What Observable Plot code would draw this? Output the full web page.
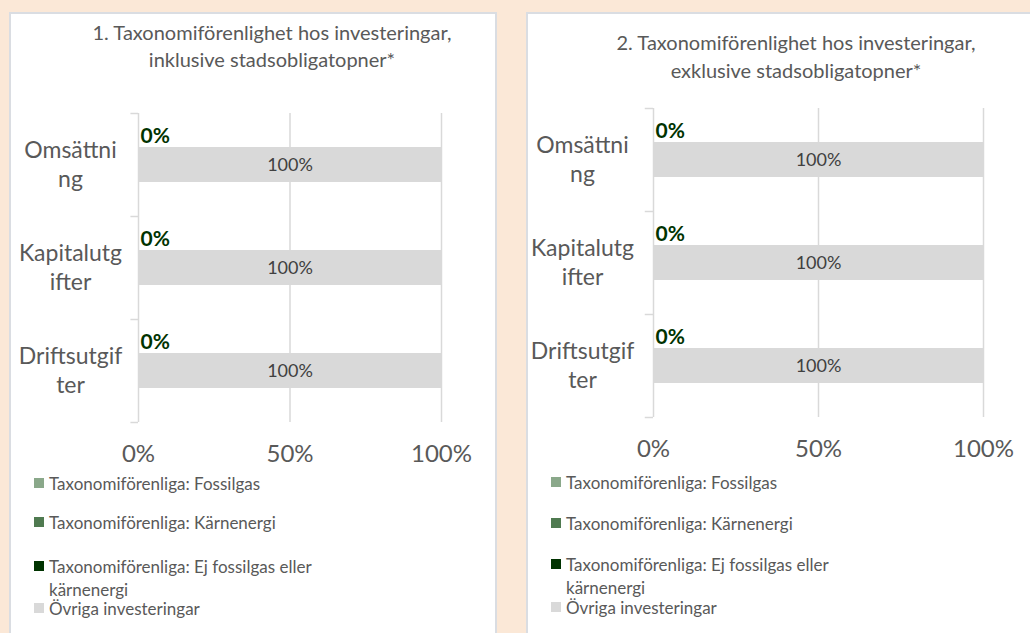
<!DOCTYPE html>
<html><head><meta charset="utf-8">
<script src="https://cdn.jsdelivr.net/npm/d3@7"></script>
<script src="https://cdn.jsdelivr.net/npm/@observablehq/plot@0.6"></script>
<style>
body{margin:0;width:1030px;height:633px;background:#FBE8D7;position:relative;overflow:hidden;font-family:Lato,"Open Sans",sans-serif;}
.panel{position:absolute;background:#fff;border:2px solid #DADDE2;border-bottom:none;box-sizing:border-box;}
.title{position:absolute;text-align:center;font-size:20px;color:#595959;white-space:pre;transform:translateX(-50%);}
.leg{position:absolute;font-size:17px;color:#595959;line-height:23px;}
.sw{position:absolute;width:10px;height:10px;}
.plotwrap{position:absolute;}
</style></head><body>
<script>
// ---- data ----
const categories = ["Omsättning", "Kapitalutgifter", "Driftsutgifter"];
const categoryLabels = ["Omsättni\nng", "Kapitalutg\nifter", "Driftsutgif\nter"];
const seriesNames = [
  "Taxonomiförenliga: Fossilgas",
  "Taxonomiförenliga: Kärnenergi",
  "Taxonomiförenliga: Ej fossilgas eller kärnenergi",
  "Övriga investeringar"
];
const seriesColors = ["#8AA88A", "#4F7A50", "#003300", "#D9D9D9"];
const xTicks = [0, 0.5, 1];
const titles = [
  "1. Taxonomiförenlighet hos investeringar,\ninklusive stadsobligatopner*",
  "2. Taxonomiförenlighet hos investeringar,\nexklusive stadsobligatopner*"
];
const chart1Fossilgas = [0, 0, 0];
const chart1Karnenergi = [0, 0, 0];
const chart1EjFossil = [0, 0, 0];
const chart1Ovriga = [1, 1, 1];
const chart2Fossilgas = [0, 0, 0];
const chart2Karnenergi = [0, 0, 0];
const chart2EjFossil = [0, 0, 0];
const chart2Ovriga = [1, 1, 1];

// ---- layout ----
const layouts = [
  {panel:{left:9, top:12, width:488, height:640},
   svg:{left:0, top:90, width:497, height:390, ml:138, mr:56, mt:23, mb:58},
   title:{cx:272, top:19, lh:27}, yPad:68,
   legend:{sx:34, tx:49, ys:[483, 522, 566, 608]}},
  {panel:{left:526, top:12, width:520, height:640},
   svg:{left:526, top:85, width:504, height:390, ml:127, mr:47, mt:23, mb:58},
   title:{cx:796, top:28, lh:28}, yPad:71,
   legend:{sx:551, tx:566, ys:[482, 523, 564, 607]}}
];

const pct = v => Math.round(v * 100) + "%";
const labelOf = new Map(categories.map((c, i) => [c, categoryLabels[i]]));

function makeChart(values, L) {
  const rows = [];
  categories.forEach((c, i) => seriesNames.forEach((s, j) => rows.push({category: c, series: s, value: values[j][i]})));
  const S = L.svg;
  const step = (S.height - S.mt - S.mb) / categories.length;
  return Plot.plot({
    width: S.width, height: S.height,
    marginLeft: S.ml, marginRight: S.mr, marginTop: S.mt, marginBottom: S.mb,
    style: {background: "transparent", color: "#595959", fontFamily: "Lato, 'Open Sans', sans-serif"},
    x: {domain: [0, 1], label: null},
    y: {domain: categories, paddingInner: 0.66, paddingOuter: 0.33, label: null},
    color: {domain: seriesNames, range: seriesColors},
    marks: [
      Plot.ruleX(xTicks, {stroke: "#D9D9D9", strokeWidth: 1.5}),
      Plot.ruleY(categories, {y: d => d, x1: -0.025, x2: 0, dy: -step / 2, stroke: "#D9D9D9", strokeWidth: 1.5}),
      Plot.ruleY(categories.slice(-1), {y: d => d, x1: -0.025, x2: 0, dy: step / 2, stroke: "#D9D9D9", strokeWidth: 1.5}),
      Plot.barX(rows, Plot.stackX({x: "value", y: "category", fill: "series", order: seriesNames})),
      Plot.text(rows, Plot.stackX({x: "value", y: "category", z: "series", order: seriesNames,
        text: d => d.series === seriesNames[3] ? pct(d.value) : null, fill: "#404040", fontSize: 18})),
      Plot.text(rows, Plot.stackX1({x: "value", y: "category", z: "series", order: seriesNames,
        text: d => d.series === seriesNames[2] ? pct(d.value) : null, textAnchor: "start", dx: 2, dy: -29,
        fill: seriesColors[2], fontWeight: "bold", fontSize: 21})),
      Plot.axisX(xTicks, {tickFormat: pct, tickSize: 0, tickPadding: 22, fontSize: 24, label: null}),
      Plot.axisY({tickFormat: c => labelOf.get(c), tickSize: 0, tickPadding: L.yPad, textAnchor: "middle", fontSize: 23, lineHeight: 1.25, dy: -2, label: null})
    ]
  });
}

const allValues = [
  [chart1Fossilgas, chart1Karnenergi, chart1EjFossil, chart1Ovriga],
  [chart2Fossilgas, chart2Karnenergi, chart2EjFossil, chart2Ovriga]
];

layouts.forEach((L, k) => {
  const p = document.createElement("div");
  p.className = "panel";
  Object.assign(p.style, {left: L.panel.left + "px", top: L.panel.top + "px", width: L.panel.width + "px", height: L.panel.height + "px"});
  document.body.appendChild(p);

  const t = document.createElement("div");
  t.className = "title";
  t.textContent = titles[k];
  Object.assign(t.style, {left: L.title.cx + "px", top: L.title.top + "px", lineHeight: L.title.lh + "px"});
  document.body.appendChild(t);

  const w = document.createElement("div");
  w.className = "plotwrap";
  Object.assign(w.style, {left: L.svg.left + "px", top: L.svg.top + "px"});
  w.appendChild(makeChart(allValues[k], L));
  document.body.appendChild(w);

  seriesNames.forEach((s, j) => {
    const y = L.legend.ys[j];
    const sw = document.createElement("div");
    sw.className = "sw";
    Object.assign(sw.style, {left: L.legend.sx + "px", top: (y - 5) + "px", background: seriesColors[j]});
    document.body.appendChild(sw);
    const lab = document.createElement("div");
    lab.className = "leg";
    lab.textContent = s;
    Object.assign(lab.style, {left: L.legend.tx + "px", top: (y - 11.5) + "px", width: "285px"});
    document.body.appendChild(lab);
  });
});
</script>
</body></html>
